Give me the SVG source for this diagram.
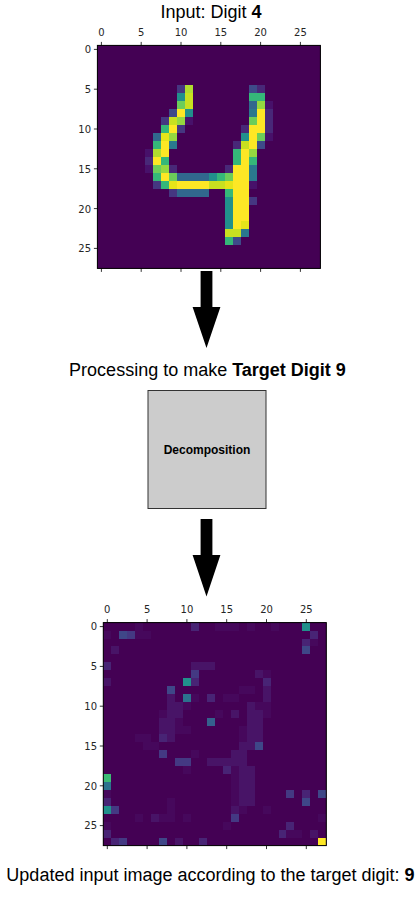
<svg xmlns="http://www.w3.org/2000/svg" width="419" height="904" viewBox="0 0 419 904">
<style>
text{font-family:"Liberation Sans",Arial,sans-serif;fill:#000}
.title{font-size:18px}
.tl{font-family:"DejaVu Sans",sans-serif;font-size:10px;fill:#262626}
.m{text-anchor:middle}
.e{text-anchor:end}
.tick{stroke:#000;stroke-width:.8;fill:none}
.frame{fill:none;stroke:#000;stroke-width:1}
.base{fill:#440154}
.arrow{fill:#000}
.cells path{shape-rendering:crispEdges}
</style>
<defs>
<filter id="soft" x="-2%" y="-2%" width="104%" height="104%" color-interpolation-filters="sRGB"><feGaussianBlur stdDeviation="0.35"/></filter>
<clipPath id="c1"><rect x="97.4" y="45.4" width="223" height="223"/></clipPath>
<clipPath id="c2"><rect x="103.3" y="622.6" width="223" height="223"/></clipPath>
</defs>
<text class="title m" x="211" y="18">Input: Digit <tspan font-weight="bold">4</tspan></text>
<g id="input-image">
<rect class="base" x="97.4" y="45.4" width="223" height="223"/>
<g clip-path="url(#c1)"><g filter="url(#soft)"><g class="cells" transform="translate(97.4 45.4) scale(7.964)">
<path class="base" d="M-1-1h30v30h-30z"/>
<path fill="#fde725" d="M10 8h1v1h-1zM20 8h1v3h-1zM9 10h1v1h-1zM19 10h1v3h-1zM8 12h1v2h-1zM18 13h1v2h-1zM7 14h1v1h-1zM17 15h2v9h-2zM8 16h1v1h-1zM10 17h4v1h-4z"/>
<path fill="#e5e419" d="M9 17h1v1h-1zM16 17h1v1h-1zM18 22h1v1h-1zM8 11h1v1h-1z"/>
<path fill="#c8e020" d="M11 6h1v2h-1zM9 9h1v1h-1zM14 17h2v1h-2zM16 23h2v1h-2zM18 12h1v1h-1z"/>
<path fill="#b0dd2f" d="M11 5h1v1h-1zM7 13h1v1h-1z"/>
<path fill="#95d840" d="M20 7h1v1h-1zM10 9h1v1h-1zM9 11h1v1h-1zM19 13h1v1h-1zM8 15h1v1h-1z"/>
<path fill="#6ccd5a" d="M10 7h1v1h-1zM19 9h1v1h-1zM20 11h1v1h-1zM7 15h1v1h-1zM9 16h1v1h-1zM16 16h1v1h-1z"/>
<path fill="#35b779" d="M19 6h2v1h-2zM8 10h1v1h-1zM7 12h1v1h-1zM17 13h1v2h-1zM8 14h1v1h-1zM19 14h1v1h-1zM7 16h1v1h-1zM15 16h1v1h-1zM8 17h1v1h-1zM16 18h1v1h-1zM16 24h1v1h-1z"/>
<path fill="#21908c" d="M10 6h1v1h-1zM11 8h1v1h-1zM18 11h1v1h-1zM14 16h1v1h-1zM16 19h1v4h-1z"/>
<path fill="#2a788e" d="M19 8h1v1h-1zM9 12h1v1h-1zM19 15h1v2h-1zM18 23h1v1h-1z"/>
<path fill="#31688e" d="M19 7h1v1h-1zM7 11h1v1h-1zM10 16h4v1h-4zM10 18h4v1h-4z"/>
<path fill="#3e4a89" d="M19 5h1v1h-1zM9 8h1v1h-1zM20 12h1v1h-1zM17 24h1v1h-1z"/>
<path fill="#453781" d="M10 5h1v1h-1zM8 9h1v1h-1zM10 10h1v1h-1zM7 17h1v1h-1zM9 18h1v1h-1zM19 19h1v1h-1z"/>
<path fill="#482878" d="M20 5h1v1h-1zM21 8h1v3h-1zM18 10h1v1h-1zM17 12h1v1h-1zM6 14h1v1h-1zM9 15h1v1h-1zM16 15h1v1h-1z"/>
<path fill="#47116a" d="M21 7h1v1h-1zM11 9h1v1h-1zM21 11h1v1h-1zM6 13h1v1h-1zM6 15h1v1h-1zM19 17h1v1h-1z"/>
</g></g></g>
<rect class="frame" x="97.4" y="45.4" width="223" height="223"/>
<path class="tick" d="M101.4 45.4v-3.5M141.2 45.4v-3.5M181 45.4v-3.5M220.8 45.4v-3.5M260.6 45.4v-3.5M300.4 45.4v-3.5M101.4 268.4v3.5M141.2 268.4v3.5M181 268.4v3.5M220.8 268.4v3.5M260.6 268.4v3.5M300.4 268.4v3.5M97.4 49.4h-3.5M97.4 89.2h-3.5M97.4 129h-3.5M97.4 168.8h-3.5M97.4 208.6h-3.5M97.4 248.4h-3.5"/>
<text class="tl m" x="101.4" y="36">0</text><text class="tl m" x="141.2" y="36">5</text><text class="tl m" x="181" y="36">10</text><text class="tl m" x="220.8" y="36">15</text><text class="tl m" x="260.6" y="36">20</text><text class="tl m" x="300.4" y="36">25</text>
<text class="tl e" x="91" y="53">0</text><text class="tl e" x="91" y="93">5</text><text class="tl e" x="91" y="133">10</text><text class="tl e" x="91" y="172.5">15</text><text class="tl e" x="91" y="212.5">20</text><text class="tl e" x="91" y="252">25</text>
</g>
<g id="connectors">
<path class="arrow" d="M200.6 271H212.4V307H220.4L206.5 348L192.6 307H200.6Z"/>
<path class="arrow" d="M200.6 519H212.4V555H220.4L206.5 596.5L192.6 555H200.6Z"/>
</g>
<text class="title m" x="207.5" y="376">Processing to make <tspan font-weight="bold">Target Digit 9</tspan></text>
<g id="decomposition">
<rect x="148" y="390.5" width="118" height="118" fill="#ccc" stroke="#333" stroke-width="1"/>
<text class="m" x="207" y="454" font-size="12" font-weight="bold">Decomposition</text>
</g>
<g id="output-image">
<rect class="base" x="103.3" y="622.6" width="223" height="223"/>
<g clip-path="url(#c2)"><g filter="url(#soft)"><g class="cells" transform="translate(103.3 622.6) scale(7.964)">
<path class="base" d="M-1-1h30v30h-30z"/>
<path fill="#46085c" d="M4 0h1v1h-1zM14 0h1v1h-1zM0 1h1v1h-1zM4 1h2v1h-2zM26 2h1v1h-1zM19 10h2v2h-2zM20 9h1v1h-1zM10 10h1v1h-1zM7 11h1v1h-1zM9 13h2v1h-2zM9 12h1v1h-1zM17 13h1v2h-1zM5 15h2v1h-2zM16 18h1v5h-1zM11 16h1v1h-1zM8 22h1v2h-1zM20 23h1v1h-1zM17 23h1v1h-1zM4 24h1v1h-1zM7 24h2v1h-2zM10 24h1v1h-1zM15 25h1v1h-1zM0 25h1v1h-1zM27 24h1v1h-1zM0 21h1v1h-1zM18 0h1v1h-1zM21 0h1v1h-1zM15 0h2v1h-2zM4 14h2v1h-2zM10 18h1v1h-1zM20 6h1v1h-1zM17 8h2v1h-2zM23 26h2v1h-2zM14 11h1v1h-1zM11 9h1v1h-1zM15 9h2v1h-2z"/>
<path fill="#481467" d="M11 5h3v1h-3zM0 7h1v1h-1zM8 9h1v5h-1zM9 10h1v2h-1zM18 10h1v1h-1zM16 11h1v1h-1zM18 11h2v4h-2zM7 12h1v2h-1zM20 8h1v2h-1zM18 15h1v1h-1zM17 15h1v1h-1zM8 14h1v1h-1zM13 17h2v1h-2zM15 17h3v1h-3zM16 16h2v1h-2zM17 18h2v5h-2zM19 6h1v1h-1zM26 26h1v1h-1zM16 23h1v1h-1zM6 24h1v1h-1zM1 3h1v1h-1zM9 27h1v1h-1z"/>
<path fill="#482475" d="M11 0h1v1h-1zM26 1h1v1h-1zM25 2h1v1h-1zM0 5h1v1h-1zM11 7h1v1h-1zM20 7h1v1h-1zM7 14h1v1h-1zM15 18h1v1h-1zM25 21h1v1h-1zM0 22h1v1h-1zM23 25h1v1h-1zM0 26h1v1h-1zM22 26h1v1h-1zM1 27h1v1h-1zM12 27h1v1h-1zM13 9h1v1h-1z"/>
<path fill="#443983" d="M3 1h1v1h-1zM11 6h1v1h-1zM7 16h1v1h-1zM9 17h2v1h-2zM23 21h1v1h-1zM1 23h1v1h-1zM16 24h1v1h-1zM2 27h1v1h-1z"/>
<path fill="#3f4788" d="M2 1h1v1h-1zM25 3h1v1h-1zM8 8h1v1h-1zM27 21h1v1h-1zM25 22h1v1h-1zM7 27h1v1h-1zM19 15h1v1h-1z"/>
<path fill="#35608d" d="M13 12h1v1h-1z"/>
<path fill="#2c728e" d="M10 9h1v1h-1zM0 20h1v1h-1z"/>
<path fill="#21908c" d="M25 0h1v1h-1zM10 7h1v1h-1zM0 23h1v1h-1z"/>
<path fill="#3cbb75" d="M0 19h1v1h-1z"/>
<path fill="#fde725" d="M27 27h1v1h-1z"/>
</g></g></g>
<rect class="frame" x="103.3" y="622.6" width="223" height="223"/>
<path class="tick" d="M107.3 622.6v-3.5M147.1 622.6v-3.5M186.9 622.6v-3.5M226.7 622.6v-3.5M266.5 622.6v-3.5M306.3 622.6v-3.5M107.3 845.6v3.5M147.1 845.6v3.5M186.9 845.6v3.5M226.7 845.6v3.5M266.5 845.6v3.5M306.3 845.6v3.5M103.3 626.6h-3.5M103.3 666.4h-3.5M103.3 706.2h-3.5M103.3 746h-3.5M103.3 785.8h-3.5M103.3 825.6h-3.5"/>
<text class="tl m" x="107.3" y="613">0</text><text class="tl m" x="147.1" y="613">5</text><text class="tl m" x="186.9" y="613">10</text><text class="tl m" x="226.7" y="613">15</text><text class="tl m" x="266.5" y="613">20</text><text class="tl m" x="306.3" y="613">25</text>
<text class="tl e" x="97" y="630">0</text><text class="tl e" x="97" y="670">5</text><text class="tl e" x="97" y="710">10</text><text class="tl e" x="97" y="749.5">15</text><text class="tl e" x="97" y="789.5">20</text><text class="tl e" x="97" y="829">25</text>
</g>
<text class="title m" x="210.5" y="881">Updated input image according to the target digit: <tspan font-weight="bold">9</tspan></text>
</svg>
